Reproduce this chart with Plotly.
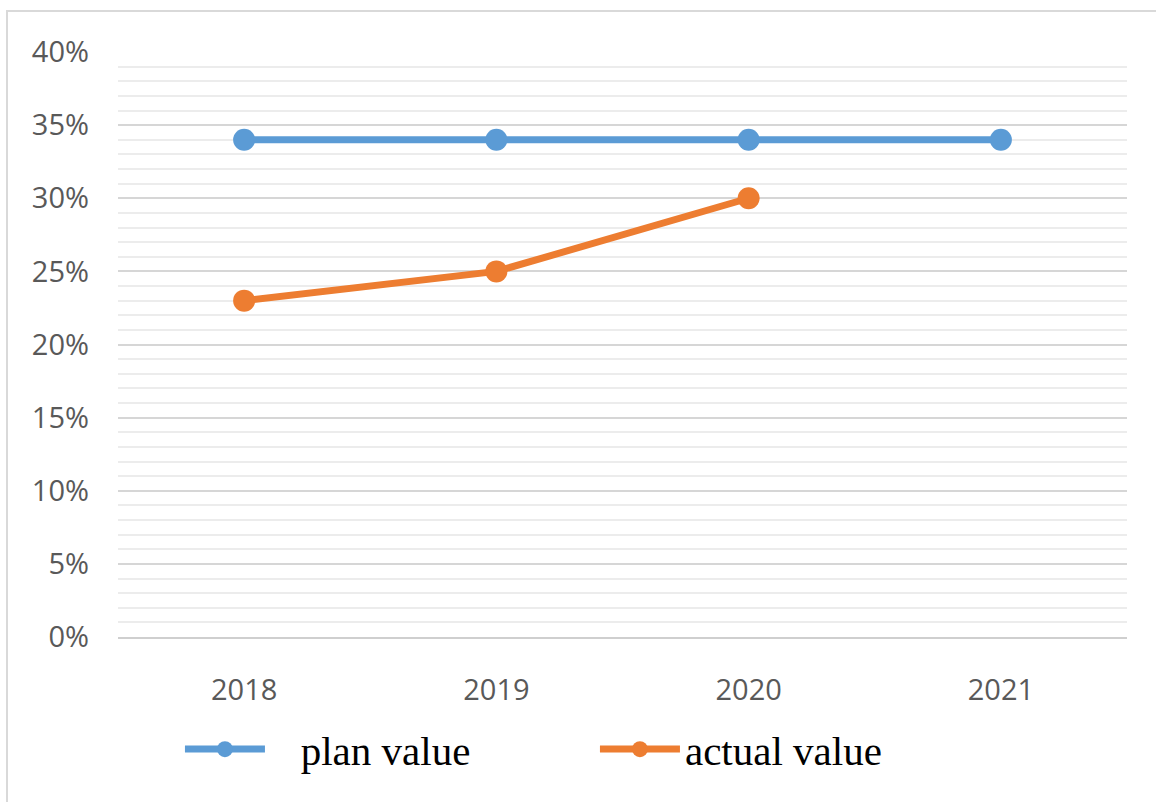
import plotly.graph_objects as go

years = ["2018", "2019", "2020", "2021"]
plan_value = [0.34, 0.34, 0.34, 0.34]
actual_years = ["2018", "2019", "2020"]
actual_value = [0.23, 0.25, 0.30]
y_ticks = [0, 0.05, 0.10, 0.15, 0.20, 0.25, 0.30, 0.35, 0.40]
y_labels = ["0%", "5%", "10%", "15%", "20%", "25%", "30%", "35%", "40%"]

W, H = 1156, 802
L, R, T, B = 118, 29, 52, 165

fig = go.Figure()
fig.add_trace(go.Scatter(
    x=years, y=plan_value, name="\u00a0\u00a0\u00a0plan value", mode="lines+markers",
    line=dict(color="#5B9BD5", width=7),
    marker=dict(color="#5B9BD5", size=22),
))
fig.add_trace(go.Scatter(
    x=actual_years, y=actual_value, name="actual value", mode="lines+markers",
    line=dict(color="#ED7D31", width=7),
    marker=dict(color="#ED7D31", size=22),
))

pw = W - L - R
ph = H - T - B
fig.add_shape(type="rect", xref="paper", yref="paper",
              x0=(7 - L) / pw, x1=(W + 5 - L) / pw,
              y0=-(H + 5 - T - ph) / ph, y1=1 + (T - 11) / ph,
              line=dict(color="#d9d9d9", width=2), layer="below")

fig.update_layout(
    width=W, height=H,
    margin=dict(l=L, r=R, t=T, b=B),
    paper_bgcolor="white", plot_bgcolor="white",
    font=dict(family="Open Sans, sans-serif", color="#595959", size=29),
    xaxis=dict(
        type="category", categoryorder="array", categoryarray=years,
        range=[-0.5, 3.5], showgrid=False, ticks="", showline=True,
        linecolor="#cfcfcf", linewidth=2, tickfont=dict(size=29, color="#595959"),
        ticklabelstandoff=26, fixedrange=True,
    ),
    yaxis=dict(
        range=[0, 0.4], tickvals=y_ticks, ticktext=y_labels,
        showgrid=True, gridcolor="#d6d6d6", gridwidth=2,
        zeroline=False, ticks="", ticklabelstandoff=28,
        minor=dict(dtick=0.01, showgrid=True, gridcolor="#ececec", gridwidth=1.5),
        tickfont=dict(size=29, color="#595959"),
    ),
    legend=dict(
        orientation="h", x=0.0614, xanchor="left", y=-0.135, yanchor="top",
        font=dict(family="Liberation Serif, Times New Roman, serif", size=41, color="#000000"),
        itemwidth=80, traceorder="normal", entrywidth=320,
    ),
    showlegend=True,
)

fig.write_html("out.html", config={"displayModeBar": False},
               post_script="document.body.style.margin='0';document.body.style.overflow='hidden';")
